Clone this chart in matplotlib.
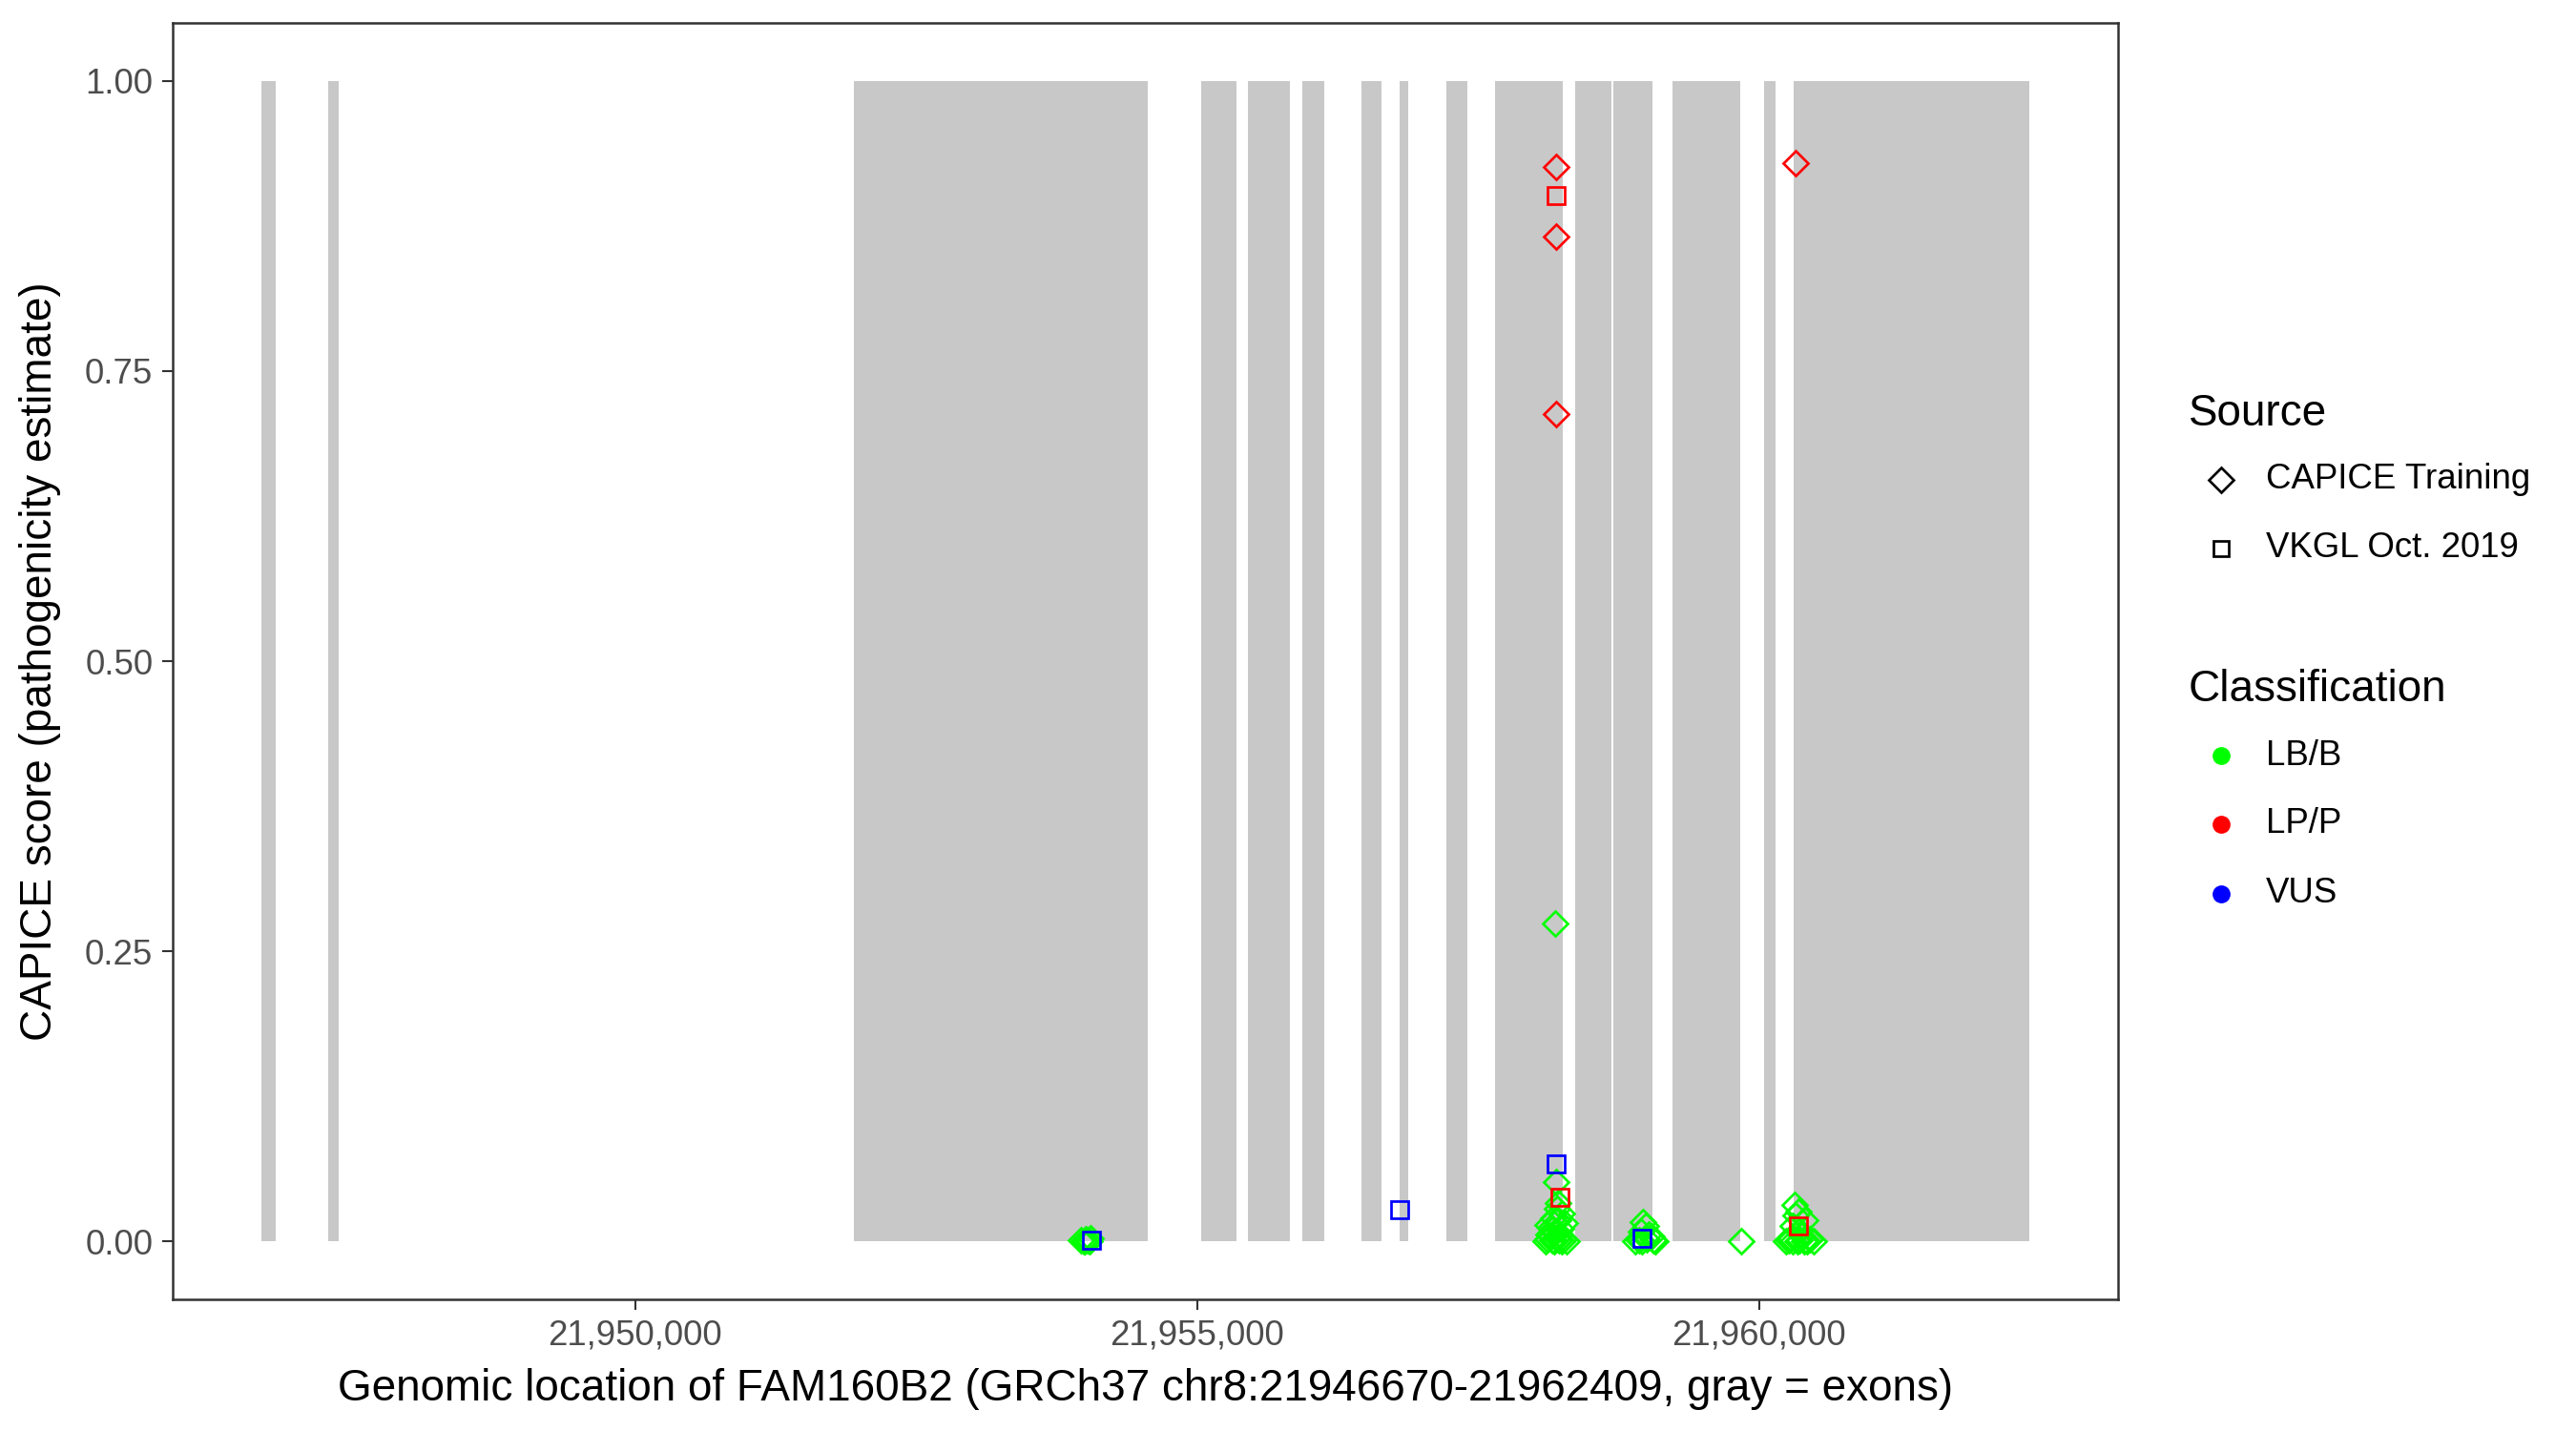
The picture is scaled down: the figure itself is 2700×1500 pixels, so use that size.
import matplotlib
matplotlib.use("Agg")
import matplotlib.pyplot as plt
from matplotlib.lines import Line2D
from matplotlib.ticker import FuncFormatter

plt.rcParams['font.family'] = ['Liberation Sans', 'DejaVu Sans']

# Exons (gray rectangles)
exon_start = [21946670, 21947271, 21951948, 21955032, 21955454, 21955938, 21956464,
              21956804, 21957220, 21957653, 21958366, 21958706, 21959232, 21960047, 21960310]
exon_end = [21946804, 21947364, 21954563, 21955350, 21955828, 21956133, 21956643,
            21956880, 21957407, 21958256, 21958689, 21959054, 21959835, 21960149, 21962409]

# CAPICE Training, LB/B (green diamonds)
lbb_train_x = [21953990, 21954010, 21954030, 21954050, 21954000, 21953970, 21954040,
               21958190, 21958196, 21958210, 21958200, 21958250, 21958270, 21958120,
               21958160, 21958190, 21958230, 21958150, 21958260, 21958100, 21958290,
               21958180, 21958220, 21958140, 21958210, 21958170, 21958240, 21958130,
               21958200, 21958160, 21958250, 21958120,
               21958970, 21958990, 21958950, 21959040, 21958900, 21959080, 21958960, 21959000,
               21958930, 21959020, 21959060,
               21959843,
               21960316, 21960350, 21960410, 21960300, 21960360, 21960245, 21960486,
               21960300, 21960340, 21960400, 21960450, 21960280, 21960330, 21960380,
               21960270, 21960430, 21960360]
lbb_train_y = [0.000, 0.002, 0.001, 0.003, 0.000, 0.001, 0.000,
               0.274, 0.051, 0.033, 0.028, 0.024, 0.016, 0.014,
               0.010, 0.008, 0.006, 0.004, 0.002, 0.000, 0.000,
               0.000, 0.001, 0.012, 0.018, 0.020, 0.011, 0.006,
               0.003, 0.001, 0.000, 0.002,
               0.017, 0.013, 0.008, 0.004, 0.000, 0.000, 0.000, 0.002,
               0.001, 0.006, 0.001,
               0.000,
               0.031, 0.026, 0.018, 0.013, 0.009, 0.000, 0.000,
               0.000, 0.000, 0.000, 0.002, 0.003, 0.022, 0.005,
               0.001, 0.000, 0.001]

# CAPICE Training, LP/P (red diamonds)
lpp_train_x = [21958194, 21958194, 21958194, 21960329]
lpp_train_y = [0.926, 0.866, 0.713, 0.929]

# VKGL Oct. 2019, LP/P (red squares)
lpp_vkgl_x = [21958194, 21958227, 21960352]
lpp_vkgl_y = [0.901, 0.038, 0.013]

# VKGL Oct. 2019, VUS (blue squares)
vus_vkgl_x = [21954056, 21956806, 21958199, 21958956]
vus_vkgl_y = [0.001, 0.027, 0.067, 0.003]

x_ticks = [21950000, 21955000, 21960000]
y_ticks = [0.00, 0.25, 0.50, 0.75, 1.00]

source_labels = ["CAPICE Training", "VKGL Oct. 2019"]
class_labels = ["LB/B", "LP/P", "VUS"]
class_colors = ["#00FF00", "#FF0000", "#0000FF"]

fig = plt.figure(figsize=(9, 5), dpi=300)
ax = fig.add_axes([181 / 2700, 1 - 1362 / 1500, (2220 - 181) / 2700, (1362 - 24) / 1500])

widths = [e - s for s, e in zip(exon_start, exon_end)]
ax.bar(exon_start, [1.0] * len(exon_start), width=widths, bottom=0, align='edge',
       color="#C8C8C8", linewidth=0, zorder=1)

ms_d = 4.3
ms_s = 4.4
lw = 0.65
ax.plot(lbb_train_x, lbb_train_y, linestyle='none', marker='D', ms=ms_d,
        mfc='none', mec=class_colors[0], mew=lw, zorder=3)
ax.plot(lpp_train_x, lpp_train_y, linestyle='none', marker='D', ms=ms_d,
        mfc='none', mec=class_colors[1], mew=lw, zorder=3)
ax.plot(lpp_vkgl_x, lpp_vkgl_y, linestyle='none', marker='s', ms=ms_s,
        mfc='none', mec=class_colors[1], mew=lw, zorder=4)
ax.plot(vus_vkgl_x, vus_vkgl_y, linestyle='none', marker='s', ms=ms_s,
        mfc='none', mec=class_colors[2], mew=lw, zorder=4)

xmin, xmax = 21946670, 21962409
pad = 0.05 * (xmax - xmin)
ax.set_xlim(xmin - pad, xmax + pad)
ax.set_ylim(-0.05, 1.05)

ax.set_xticks(x_ticks)
ax.xaxis.set_major_formatter(FuncFormatter(lambda v, p: f"{int(round(v)):,}"))
ax.set_yticks(y_ticks)
ax.yaxis.set_major_formatter(FuncFormatter(lambda v, p: f"{v:.2f}"))

ax.tick_params(axis='both', which='major', length=2.75, width=0.5, color='#333333',
               labelsize=8.8, labelcolor='#4D4D4D', pad=2.2)
for sp in ax.spines.values():
    sp.set_linewidth(0.6)
    sp.set_color('#333333')

ax.set_xlabel("Genomic location of FAM160B2 (GRCh37 chr8:21946670-21962409, gray = exons)",
              fontsize=11, color='black', labelpad=4)
ax.set_ylabel("CAPICE score (pathogenicity estimate)", fontsize=11, color='black', labelpad=6)

# Legends (drawn manually in figure coordinates)
title_x = 2294 / 2700
key_x = 2328 / 2700
text_x = 2375 / 2700

fig.text(title_x, 1 - 434 / 1500, "Source", fontsize=11, va='center', ha='left')
src_y = [1 - 503 / 1500, 1 - 575 / 1500]
src_markers = ['D', 's']
for lab, yy, mk in zip(source_labels, src_y, src_markers):
    fig.add_artist(Line2D([key_x], [yy], transform=fig.transFigure, marker=mk,
                          ms=ms_d if mk == 'D' else ms_s * 0.85, mfc='none', mec='black',
                          mew=lw, linestyle='none'))
    fig.text(text_x, yy, lab, fontsize=8.8, va='center', ha='left')

fig.text(title_x, 1 - 723 / 1500, "Classification", fontsize=11, va='center', ha='left')
cls_y = [1 - 792 / 1500, 1 - 864 / 1500, 1 - 937 / 1500]
for lab, yy, col in zip(class_labels, cls_y, class_colors):
    fig.add_artist(Line2D([key_x], [yy], transform=fig.transFigure, marker='o',
                          ms=4.0, mfc=col, mec=col, mew=0.5, linestyle='none'))
    fig.text(text_x, yy, lab, fontsize=8.8, va='center', ha='left')

fig.savefig("out.png", dpi=300, facecolor='white')
